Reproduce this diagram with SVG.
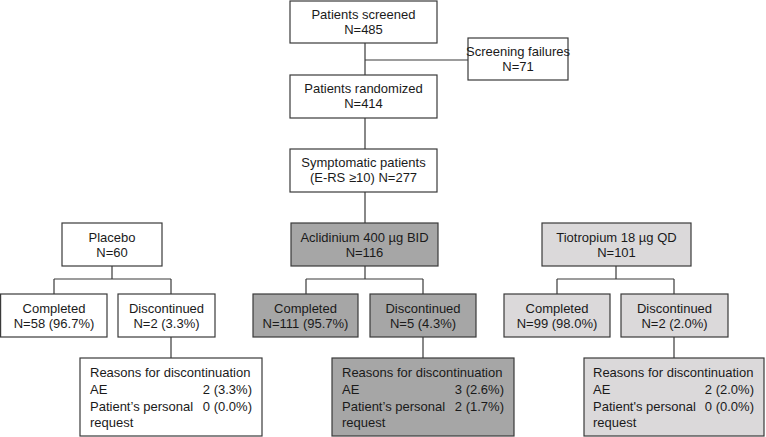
<svg xmlns="http://www.w3.org/2000/svg" width="766" height="437" viewBox="0 0 766 437">
<style>
rect{stroke:#3a3a3a;stroke-width:1.2;fill:#fff}
.d rect{fill:#a6a6a6}
.l rect{fill:#dbd9da}
text{font-family:"Liberation Sans",Arial,sans-serif;font-size:13px;fill:#1a1a1a}
.c{text-anchor:middle}
.r{text-anchor:end}
#connectors path{stroke:#3a3a3a;stroke-width:1.2;fill:none}
</style>
<rect x="0" y="0" width="766" height="437" style="fill:#fff;stroke:none"/>
<g id="connectors">
<path d="M365 43V75M365 60H468M365 118V149M365 192V223"/>
<path d="M112 266V279M54 279H171M54 279V294M171 279V294M171 337V358"/>
<path d="M365 266V279M306 279H423M306 279V294M423 279V294M423 337V358"/>
<path d="M616 266V279M557 279H674M557 279V294M674 279V294M674 337V358"/>
</g>
<g id="screened"><rect x="290" y="1" width="147" height="42"/><text class="c" x="363.5" y="19">Patients screened</text><text class="c" x="363.5" y="34">N=485</text></g>
<g id="failures"><rect x="468" y="38" width="100" height="42"/><text class="c" x="518" y="56">Screening failures</text><text class="c" x="518" y="71">N=71</text></g>
<g id="randomized"><rect x="290" y="75" width="147" height="43"/><text class="c" x="363.5" y="93">Patients randomized</text><text class="c" x="363.5" y="108">N=414</text></g>
<g id="symptomatic"><rect x="290" y="149" width="147" height="43"/><text class="c" x="363.5" y="167">Symptomatic patients</text><text class="c" x="363.5" y="182">(E-RS ≥10) N=277</text></g>

<g id="placebo"><rect x="62" y="223" width="100" height="43"/><text class="c" x="112" y="242">Placebo</text><text class="c" x="112" y="257">N=60</text></g>
<g id="placebo-completed"><rect x="0.6" y="294" width="106.4" height="43"/><text class="c" x="54" y="313">Completed</text><text class="c" x="54" y="328">N=58 (96.7%)</text></g>
<g id="placebo-discontinued"><rect x="118" y="294" width="97" height="43"/><text class="c" x="166.5" y="313">Discontinued</text><text class="c" x="166.5" y="328">N=2 (3.3%)</text></g>
<g id="placebo-reasons"><rect x="80" y="358" width="182" height="78"/><text x="90" y="377">Reasons for discontinuation</text><text x="90" y="394">AE</text><text class="r" x="252" y="394">2 (3.3%)</text><text x="90" y="411">Patient’s personal</text><text class="r" x="252" y="411">0 (0.0%)</text><text x="90" y="427">request</text></g>

<g id="aclidinium" class="d"><rect x="291" y="223" width="147" height="43"/><text class="c" x="364.5" y="242">Aclidinium 400 µg BID</text><text class="c" x="364.5" y="257">N=116</text></g>
<g id="aclidinium-completed" class="d"><rect x="253" y="294" width="105" height="43"/><text class="c" x="305.5" y="313">Completed</text><text class="c" x="305.5" y="328">N=111 (95.7%)</text></g>
<g id="aclidinium-discontinued" class="d"><rect x="370" y="294" width="106" height="43"/><text class="c" x="423" y="313">Discontinued</text><text class="c" x="423" y="328">N=5 (4.3%)</text></g>
<g id="aclidinium-reasons" class="d"><rect x="332" y="358" width="182" height="78"/><text x="342" y="377">Reasons for discontinuation</text><text x="342" y="394">AE</text><text class="r" x="504" y="394">3 (2.6%)</text><text x="342" y="411">Patient’s personal</text><text class="r" x="504" y="411">2 (1.7%)</text><text x="342" y="427">request</text></g>

<g id="tiotropium" class="l"><rect x="542" y="223" width="149" height="43"/><text class="c" x="616.5" y="242">Tiotropium 18 µg QD</text><text class="c" x="616.5" y="257">N=101</text></g>
<g id="tiotropium-completed" class="l"><rect x="504" y="294" width="106" height="43"/><text class="c" x="557" y="313">Completed</text><text class="c" x="557" y="328">N=99 (98.0%)</text></g>
<g id="tiotropium-discontinued" class="l"><rect x="621" y="294" width="107" height="43"/><text class="c" x="674.5" y="313">Discontinued</text><text class="c" x="674.5" y="328">N=2 (2.0%)</text></g>
<g id="tiotropium-reasons" class="l"><rect x="584" y="358" width="180" height="78"/><text x="593" y="377">Reasons for discontinuation</text><text x="593" y="394">AE</text><text class="r" x="754" y="394">2 (2.0%)</text><text x="593" y="411">Patient's personal</text><text class="r" x="754" y="411">0 (0.0%)</text><text x="593" y="427">request</text></g>
</svg>
